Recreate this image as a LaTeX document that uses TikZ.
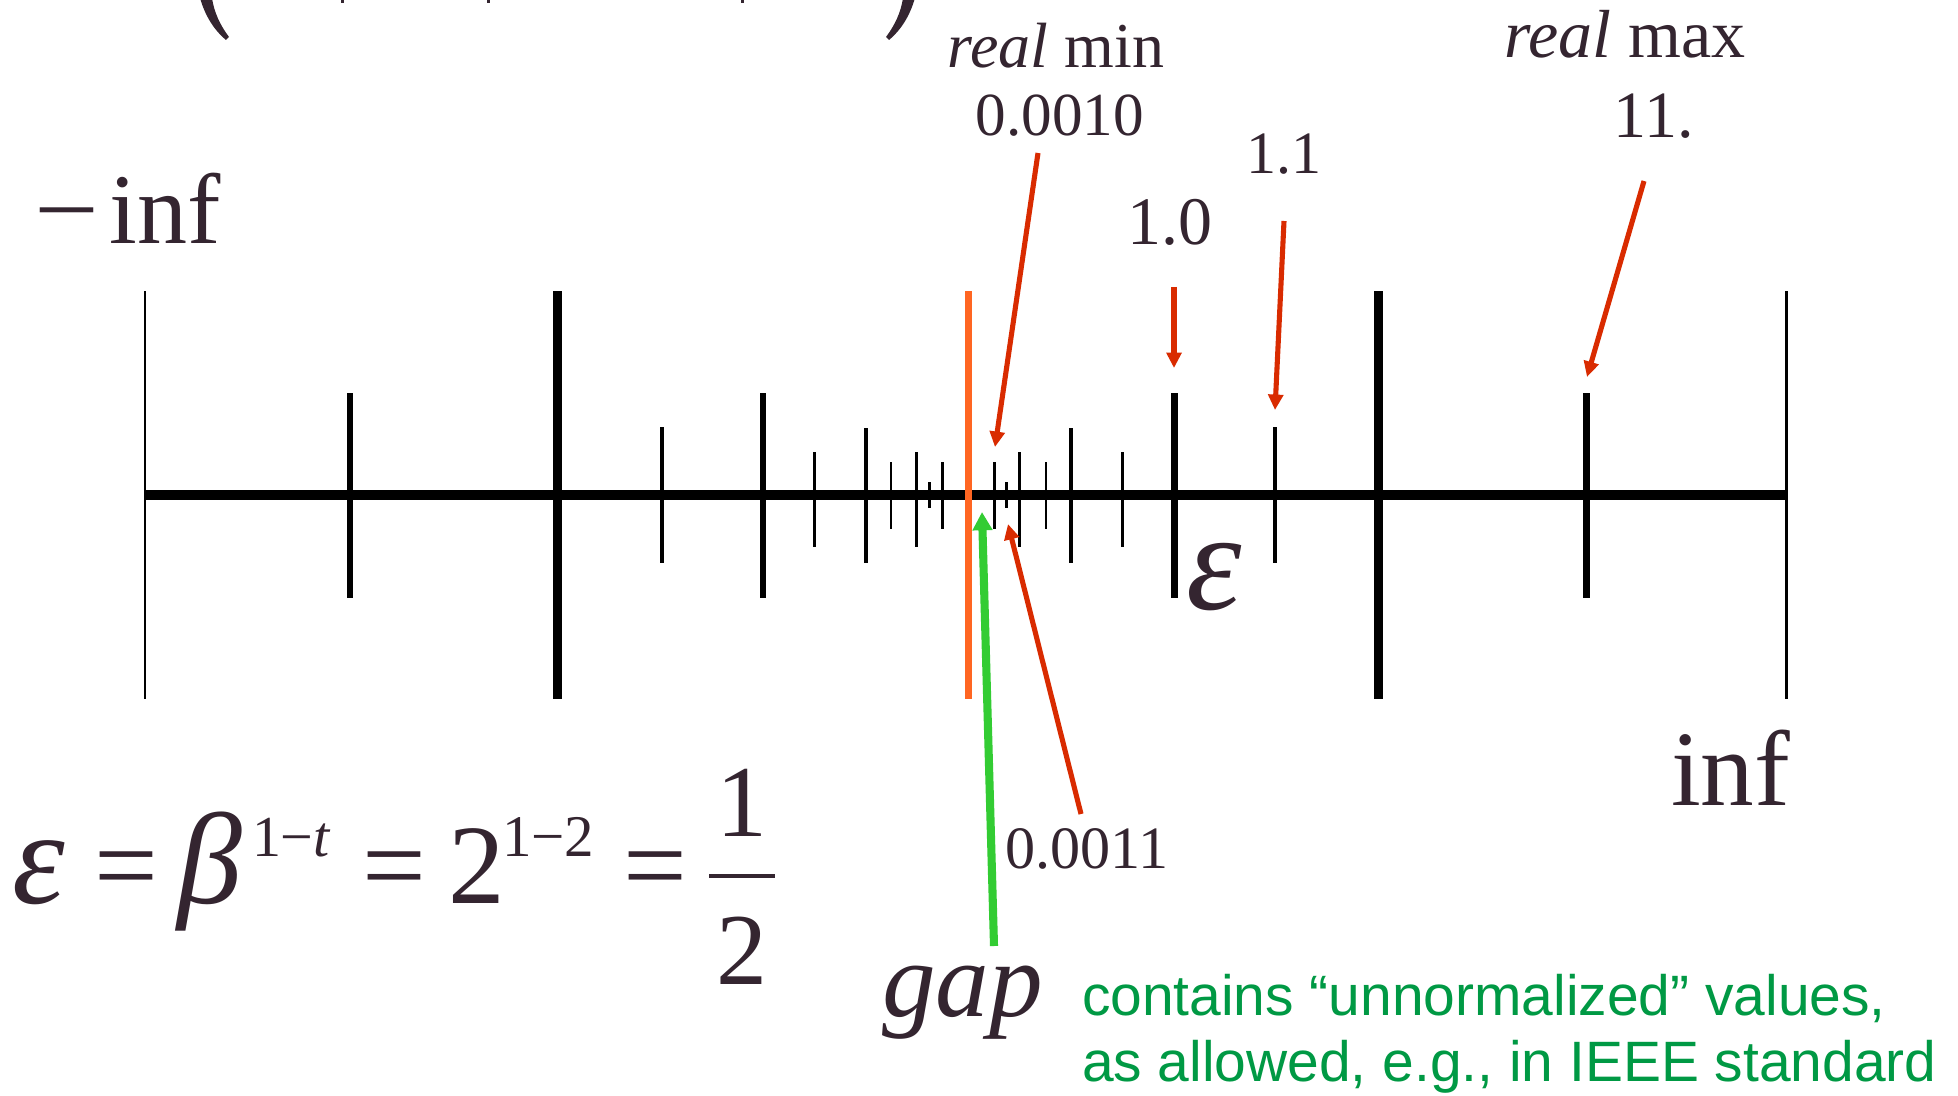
\documentclass[tikz,border=0pt]{standalone}
\usepackage{fontspec}
\setmainfont{Liberation Serif}
\newfontfamily\sansf{Liberation Sans}
\usetikzlibrary{arrows.meta}
\definecolor{ink}{RGB}{52,37,48}
\definecolor{redarr}{RGB}{217,43,0}
\definecolor{orangeln}{RGB}{255,102,34}
\definecolor{greenarr}{RGB}{51,204,51}
\definecolor{greentxt}{RGB}{0,153,68}
\newcommand{\fsz}[1]{\fontsize{#1}{#1}\selectfont}
\begin{document}
\begin{tikzpicture}[x=0.1mm,y=-0.1mm,
  every node/.style={inner sep=0pt,outer sep=0pt,text=ink},
  lbl/.style={anchor=base},
  lblw/.style={anchor=base west},
  redarrow/.style={draw=redarr,line width=1.45pt,-{Triangle[length=4.4pt,width=4.2pt]}},
  greenarrow/.style={draw=greenarr,line width=2.3pt,-{Triangle[length=5.2pt,width=5.4pt]}},
  axisline/.style={line width=3.1pt,black}]
\useasboundingbox (0,0) rectangle (1958,1096);
\fill[white] (0,0) rectangle (1958,1096);
\clip (0,0) rectangle (1958,1096);

% clipped remains of the formula at the top edge
\fill[ink] (200,-2) .. controls (205,15) and (213,29) .. (226,40) -- (229,37) .. controls (220,25) and (214,12) .. (212,-2) -- cycle;
\fill[ink] (915,-2) .. controls (910,15) and (902,29) .. (889,40) -- (886,37) .. controls (895,25) and (901,12) .. (903,-2) -- cycle;
\fill[ink] (341,0) rectangle (344,3);
\fill[ink] (487,0) rectangle (490,3);
\fill[ink] (741,0) rectangle (744,3);

% ticks: x / top / bottom / width
\foreach \x/\t/\b/\w in {145/291/699/0.85, 350/393/598/1.85, 557/291/699/2.56,
  662/427/563/1.28, 763/393/598/1.85, 814.3/452/547/0.71, 866/428/563/1.14,
  891/462/529/0.71, 916.7/452/547/0.71, 929.3/482/508/0.71, 942.3/462/529/0.71,
  994.3/462/529/0.71, 1006.7/482/508/0.71, 1019.3/452/547/0.71, 1046/462/529/0.71,
  1071/428/563/1.14, 1122.7/452/547/0.71, 1174.3/393/598/1.85, 1275/427/563/1.28,
  1378/291/699/2.56, 1586.5/393/598/1.85, 1786/291/699/0.85}
  \draw[line width=\w pt,black] (\x,\t) -- (\x,\b);
\draw[axisline] (145,495) -- (1786,495);
\draw[orangeln,line width=2.13pt] (968.7,291) -- (968.7,699);

% labels
\node[lblw] (minf) at (34,244) {\fsz{28.45}\scalebox{1.15}[1]{−}\hspace{3pt}inf};
\node[lblw] (inf) at (1671,805) {\fsz{30.5}inf};
\node[lbl] (rmin) at (1056,68) {\fsz{18.2}\textit{real} min};
\node[lbl] (vmin) at (1060,136) {\fsz{17.4}0.0010};
\node[lbl] (one0) at (1170,245) {\fsz{19.35}1.0};
\node[lbl] (one1) at (1284,173) {\fsz{17.1}1.1};
\node[lbl] (rmax) at (1625,58) {\fsz{19.35}\textit{real} max};
\node[lbl] (vmax) at (1654,138) {\fsz{18.8}11.};
\node[lbl] (v0011) at (1087,868) {\fsz{17.1}0.0011};
\node[lblw] (epsl) at (1186,609) {\fsz{40}\textit{ε}};
\node[lblw] (gap) at (882,1016) {\fsz{30.5}\textit{gap}};
\node[lblw,text=greentxt] (note1) at (1082,1015) {\sansf\fsz{16.2}contains “unnormalized” values,};
\node[lblw,text=greentxt] (note2) at (1082,1081) {\sansf\fsz{16.2}as allowed, e.g., in IEEE standard};

% formula
\node[lblw] (f1) at (12,903) {\fsz{38}\textit{ε}};
\node[lblw] (f2) at (94,903) {\fsz{32.2}=};
\node[lblw] (f3) at (177,903) {\fsz{37}\textit{β}};
\node[lblw] (f4) at (252,856) {\fsz{16.5}1−\textit{t}};
\node[lblw] (f5) at (362,903) {\fsz{32.2}=};
\node[lblw] (f6) at (448,903) {\fsz{32.2}2};
\node[lblw] (f7) at (502,856) {\fsz{16.8}1−2};
\node[lblw] (f8) at (623,903) {\fsz{32.2}=};
\draw[ink,line width=1.28pt] (709,876) -- (775,876);
\node[lbl] (f9) at (742,836) {\fsz{29}1};
\node[lbl] (f10) at (742,984) {\fsz{29}2};

% arrows
\coordinate (a1s) at (1038,153); \coordinate (a1e) at (995,447);
\coordinate (a2s) at (1174,287); \coordinate (a2e) at (1174,368);
\coordinate (a3s) at (1284,221); \coordinate (a3e) at (1275,410);
\coordinate (a4s) at (1644,181); \coordinate (a4e) at (1587,377);
\coordinate (a5s) at (1081,814); \coordinate (a5e) at (1008,524);
\coordinate (gs) at (994,946); \coordinate (ge) at (982,512);
\draw[redarrow] (a1s) -- (a1e);
\draw[redarrow] (a2s) -- (a2e);
\draw[redarrow] (a3s) -- (a3e);
\draw[redarrow] (a4s) -- (a4e);
\draw[redarrow] (a5s) -- (a5e);
\draw[greenarrow] (gs) -- (ge);
\end{tikzpicture}
\end{document}
